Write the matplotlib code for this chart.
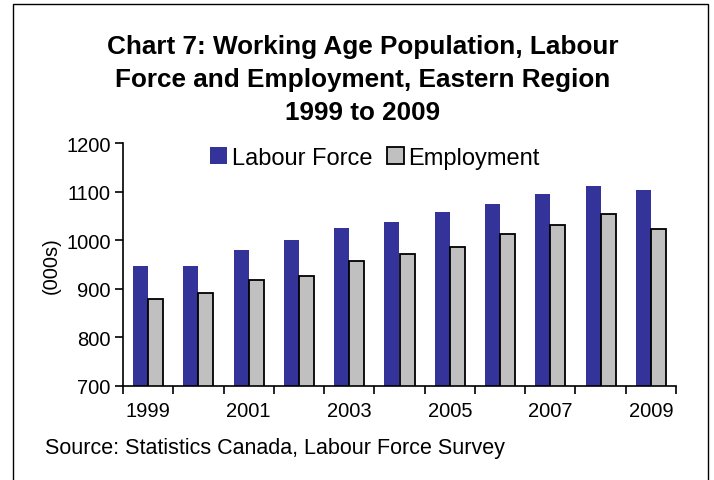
import matplotlib.pyplot as plt
import numpy as np
from matplotlib.patches import Rectangle

years = [1999, 2000, 2001, 2002, 2003, 2004, 2005, 2006, 2007, 2008, 2009]
labour_force = [947, 947, 980, 1001, 1025, 1037, 1058, 1074, 1095, 1111, 1103]
employment = [880, 892, 918, 927, 958, 971, 987, 1012, 1032, 1053, 1024]
tick_labels = [str(y) if y % 2 == 1 else "" for y in years]

plt.rcParams["font.family"] = ["Liberation Sans", "DejaVu Sans"]

fig = plt.figure(figsize=(7.14, 4.81), dpi=100)
fig.patches.append(
    Rectangle((13 / 714, -0.1), 695 / 714, 1.1 - 5 / 481, transform=fig.transFigure,
              fill=False, edgecolor="black", linewidth=1.0)
)
ax = fig.add_axes([123 / 714, 1 - 387 / 481, 553 / 714, 243 / 481])

x = np.arange(len(years))
width = 0.3
ax.bar(x - width / 2, labour_force, width, color="#333399", label="Labour Force")
ax.bar(x + width / 2, employment, width, color="#c0c0c0", edgecolor="black",
       linewidth=1.3, label="Employment")

ax.set_xlim(-0.5, len(years) - 0.5)
ax.set_ylim(700, 1200)
ax.set_yticks(range(700, 1201, 100))
ax.set_xticks(x)
ax.set_xticklabels(tick_labels)
ax.set_xticks(np.arange(-0.5, len(years), 1), minor=True)
ax.tick_params(axis="x", which="major", length=0, pad=11, labelsize=14.5)
ax.tick_params(axis="x", which="minor", length=6, width=1.2, direction="out")
ax.tick_params(axis="y", length=6, width=1.2, labelsize=14.5, pad=3)
ax.spines[["top", "right"]].set_visible(False)
ax.spines[["left", "bottom"]].set_linewidth(1.2)
ax.set_ylabel("(000s)", fontsize=14.5, labelpad=4)

ax.legend(loc="center", bbox_to_anchor=(0.456, 0.94), ncol=2, frameon=False,
          fontsize=17, handlelength=0.72, handleheight=0.72, handletextpad=0.2,
          columnspacing=0.6, borderpad=0)

title_lines = ["Chart 7: Working Age Population, Labour",
               "Force and Employment, Eastern Region",
               "1999 to 2009"]
for i, line in enumerate(title_lines):
    fig.text(0.508, 1 - (47 + 33 * i) / 481, line, ha="center", va="center",
             fontsize=18.8, fontweight="bold")
fig.text(45 / 714, 1 - 449 / 481, "Source: Statistics Canada, Labour Force Survey",
         ha="left", va="center", fontsize=15.5)

fig.savefig("out.png", dpi=100)
